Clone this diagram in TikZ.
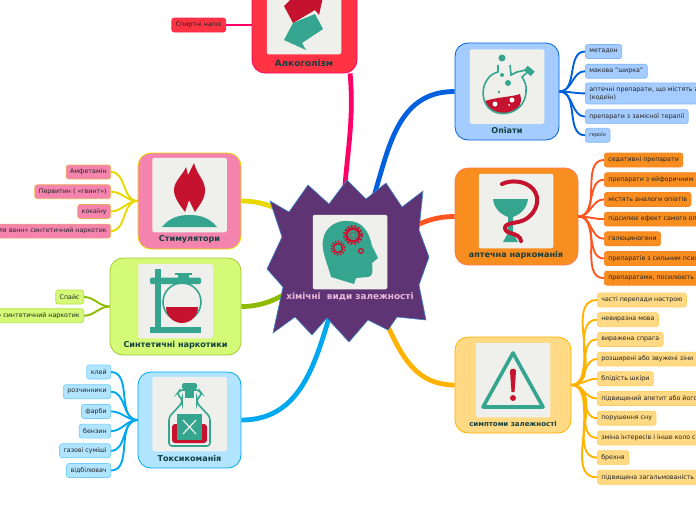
\documentclass[tikz,border=0pt]{standalone}
\usepackage{fontspec}
\setmainfont{DejaVu Sans}
\usetikzlibrary{positioning, calc}
\definecolor{icongreen}{HTML}{35A58F}
\definecolor{iconred}{HTML}{C4122F}
\definecolor{iconbg}{HTML}{EFF0EC}
\definecolor{titledark}{HTML}{123F3F}
\definecolor{leaftext}{HTML}{222222}
\definecolor{starfill}{HTML}{5E3474}
\definecolor{starline}{HTML}{3A86C8}
\definecolor{starlabel}{HTML}{EBB9DC}
\definecolor{alcfill}{HTML}{FF3344}
\definecolor{alcline}{HTML}{FF0066}
\definecolor{stimfill}{HTML}{F484AE}
\definecolor{stimline}{HTML}{E8D800}
\definecolor{synfill}{HTML}{D4FA78}
\definecolor{synline}{HTML}{8DBB00}
\definecolor{toxfill}{HTML}{B0E4FF}
\definecolor{toxline}{HTML}{00A8F0}
\definecolor{opifill}{HTML}{A4CCFF}
\definecolor{opiline}{HTML}{0060DD}
\definecolor{phafill}{HTML}{F98E20}
\definecolor{phaline}{HTML}{FF5520}
\definecolor{symfill}{HTML}{FFD984}
\definecolor{symline}{HTML}{FFB300}

\begin{document}
\begin{tikzpicture}[
  x=1pt, y=-1pt,
  every node/.style={font=\fontsize{6.3}{7.6}\selectfont, text=leaftext},
  topicbox/.style={
    line width=0.8pt, rounded corners=13pt, inner sep=0pt
  },
  iconbox/.style={
    fill=iconbg, rounded corners=2pt, inner sep=0pt,
    minimum width=74.5pt, minimum height=74.5pt
  },
  toplabel/.style={font=\fontsize{8.1}{9}\selectfont\bfseries, text=titledark, inner sep=0pt},
  leaf/.style={
    rounded corners=2.5pt, line width=0.7pt, inner xsep=4pt, inner ysep=0pt,
    minimum height=14pt, align=left
  },
  mainlink/.style={line width=4.8pt},
  leaflink/.style={line width=1.9pt},
  redfill/.style={fill=iconred},
  greenfill/.style={fill=icongreen},
  greenline/.style={draw=icongreen, line width=1.6pt}
]
\useasboundingbox (0,0) rectangle (696,520);
\clip (0,0) rectangle (696,520);

\coordinate (root) at (348,260);

% topics
\node[topicbox, draw=alcline, fill=alcfill, minimum width=105pt, minimum height=97pt] (alcohol) at (304.5,24.5) {};
\node[topicbox, draw=stimline, fill=stimfill, minimum width=103pt, minimum height=96pt] (stimul) at (189.5,201) {};
\node[topicbox, draw=synline!80, fill=synfill, minimum width=131pt, minimum height=97pt] (synth) at (175.5,306.5) {};
\node[topicbox, draw=toxline, fill=toxfill, minimum width=103pt, minimum height=96pt] (toxic) at (189.5,420) {};
\node[topicbox, draw=opiline, fill=opifill, minimum width=104pt, minimum height=97pt] (opiate) at (507,91.5) {};
\node[topicbox, draw=phaline!80, fill=phafill, minimum width=123pt, minimum height=97pt] (pharma) at (516.5,216.5) {};
\node[topicbox, draw=symline, fill=symfill, minimum width=116pt, minimum height=96pt] (sympt) at (513,385) {};

\node[iconbox] (alcoholicon) at (304,17) {};
\node[iconbox] (stimulicon) at (189.5,195) {};
\node[iconbox] (synthicon) at (175.5,301) {};
\node[iconbox] (toxicicon) at (189.5,414) {};
\node[iconbox] (opiateicon) at (507,86.5) {};
\node[iconbox] (pharmaicon) at (516,211) {};
\node[iconbox] (symptomicon) at (513,380) {};

\node[toplabel, font=\fontsize{8.9}{10}\selectfont\bfseries] (alcohollabel) at (304,63) {Алкоголізм};
\node[toplabel] (stimullabel) at (189.5,239) {Стимулятори};
\node[toplabel] (synthlabel) at (175.5,345) {Синтетичні наркотики};
\node[toplabel] (toxiclabel) at (189.5,458) {Токсикоманія};
\node[toplabel] (opiatelabel) at (507,130) {Опіати};
\node[toplabel] (pharmalabel) at (516,255) {аптечна наркоманія};
\node[toplabel, font=\fontsize{7}{8}\selectfont\bfseries] (symptomlabel) at (513,423.5) {симптоми залежності};

% leaves, left side
\node[leaf, fill=alcfill, draw=alcline!30!alcfill, anchor=east] (spirit) at (226,25) {Спиртні напої};

\node[leaf, fill=stimfill, draw=stimline!50!stimfill, anchor=east] (amphet) at (111,172) {Амфетамін};
\node[leaf, fill=stimfill, draw=stimline!50!stimfill, below=5pt of amphet.south east, anchor=north east] (pervit) {Первитин ( «гвинт»)};
\node[leaf, fill=stimfill, draw=stimline!50!stimfill, below=5pt of pervit.south east, anchor=north east] (cocain) {кокаїну};
\node[leaf, fill=stimfill, draw=stimline!50!stimfill, below=5pt of cocain.south east, anchor=north east] (bathsalt) {ля ванн» синтетичний наркотик};

\node[leaf, fill=synfill, draw=synline!40!synfill, anchor=east] (spice) at (84,297) {Спайс};
\node[leaf, fill=synfill, draw=synline!40!synfill, below=4pt of spice.south east, anchor=north east] (spicedrug) {» синтетичний наркотик};

\node[leaf, fill=toxfill, draw=toxline!35!toxfill, anchor=east] (glue) at (111,372) {клей};
\node[leaf, fill=toxfill, draw=toxline!35!toxfill, below=5pt of glue.south east, anchor=north east] (solvent) {розчинники};
\node[leaf, fill=toxfill, draw=toxline!35!toxfill, below=5pt of solvent.south east, anchor=north east] (paint) {фарби};
\node[leaf, fill=toxfill, draw=toxline!35!toxfill, below=5pt of paint.south east, anchor=north east] (petrol) {бензин};
\node[leaf, fill=toxfill, draw=toxline!35!toxfill, below=5pt of petrol.south east, anchor=north east] (gasmix) {газові суміші};
\node[leaf, fill=toxfill, draw=toxline!35!toxfill, below=5pt of gasmix.south east, anchor=north east] (bleach) {відбілювач};

% leaves, right side
\node[leaf, fill=opifill, draw=opiline!20!opifill, anchor=west] (methad) at (585,51.5) {метадон};
\node[leaf, fill=opifill, draw=opiline!20!opifill, below=5pt of methad.south west, anchor=north west] (poppy) {макова "ширка"};
\node[leaf, fill=opifill, draw=opiline!20!opifill, below=4pt of poppy.south west, anchor=north west, minimum height=21pt] (codeine) {аптечні препарати, що містять а\\(кодеїн)};
\node[leaf, fill=opifill, draw=opiline!20!opifill, below=5pt of codeine.south west, anchor=north west] (substit) {препарати з замісної терапії};
\node[leaf, fill=opifill, draw=opiline!20!opifill, below=4pt of substit.south west, anchor=north west, font=\fontsize{5}{6}\selectfont] (heroin) {героїн};

\node[leaf, fill=phafill, draw=phaline!20!phafill, anchor=west] (sedat) at (604,160) {седативні препарати};
\node[leaf, fill=phafill, draw=phaline!20!phafill, below=5pt of sedat.south west, anchor=north west] (euphor) {препарати з ейфоричним};
\node[leaf, fill=phafill, draw=phaline!20!phafill, below=5pt of euphor.south west, anchor=north west] (analog) {містять аналоги опіатів};
\node[leaf, fill=phafill, draw=phaline!20!phafill, below=5pt of analog.south west, anchor=north west] (enhance) {підсилює ефект самого оп};
\node[leaf, fill=phafill, draw=phaline!20!phafill, below=5pt of enhance.south west, anchor=north west] (halluc) {галюциногени};
\node[leaf, fill=phafill, draw=phaline!20!phafill, below=5pt of halluc.south west, anchor=north west] (strong) {препаратів з сильним псих};
\node[leaf, fill=phafill, draw=phaline!20!phafill, below=5pt of strong.south west, anchor=north west] (amplify) {препаратами, посилюють};

\node[leaf, fill=symfill, draw=symline!25!symfill, anchor=west] (moods) at (597,300) {часті перепади настрою};
\node[leaf, fill=symfill, draw=symline!25!symfill, below=5pt of moods.south west, anchor=north west] (speech) {невиразна мова};
\node[leaf, fill=symfill, draw=symline!25!symfill, below=5pt of speech.south west, anchor=north west] (thirst) {виражена спрага};
\node[leaf, fill=symfill, draw=symline!25!symfill, below=5pt of thirst.south west, anchor=north west] (pupils) {розширені або звужені зіни};
\node[leaf, fill=symfill, draw=symline!25!symfill, below=5pt of pupils.south west, anchor=north west] (pale) {блідість шкіри};
\node[leaf, fill=symfill, draw=symline!25!symfill, below=5pt of pale.south west, anchor=north west] (appetite) {підвищений апетит або його};
\node[leaf, fill=symfill, draw=symline!25!symfill, below=5pt of appetite.south west, anchor=north west] (sleep) {порушення сну};
\node[leaf, fill=symfill, draw=symline!25!symfill, below=5pt of sleep.south west, anchor=north west] (interest) {зміна інтересів і інше коло с};
\node[leaf, fill=symfill, draw=symline!25!symfill, below=5pt of interest.south west, anchor=north west] (lies) {брехня};
\node[leaf, fill=symfill, draw=symline!25!symfill, below=5pt of lies.south west, anchor=north west] (inhibit) {підвищена загальмованість};

% connectors
\draw[mainlink, alcline] (root) to[out=100, in=-85] (alcohol.-47);
\draw[mainlink, stimline] (root) to[out=150, in=0] (stimul.east);
\draw[mainlink, synline] (root) to[out=195, in=0] (synth.east);
\draw[mainlink, toxline] (root) to[out=-112, in=0] (toxic.east);
\draw[mainlink, opiline] (root) to[out=58, in=180] (opiate.west);
\draw[mainlink, phaline] (root) to[out=15, in=180] (pharma.west);
\draw[mainlink, symline] (root) to[out=-45, in=180] (sympt.west);

\draw[leaflink, alcline] (alcohol.west |- spirit) -- (spirit);
\foreach \leafname in {amphet, pervit, cocain, bathsalt}
  \draw[leaflink, stimline] (stimul.west) to[out=180, in=0] (\leafname.east);
\foreach \leafname in {spice, spicedrug}
  \draw[leaflink, synline] (synth.west) to[out=180, in=0] (\leafname.east);
\foreach \leafname in {glue, solvent, paint, petrol, gasmix, bleach}
  \draw[leaflink, toxline] (toxic.west) to[out=180, in=0] (\leafname.east);
\foreach \leafname in {methad, poppy, codeine, substit, heroin}
  \draw[leaflink, opiline] (opiate.east) to[out=0, in=180] (\leafname.west);
\foreach \leafname in {sedat, euphor, analog, enhance, halluc, strong, amplify}
  \draw[leaflink, phaline] (pharma.east) to[out=0, in=180] (\leafname.west);
\foreach \leafname in {moods, speech, thirst, pupils, pale, appetite, sleep, interest, lies, inhibit}
  \draw[leaflink, symline] (sympt.east) to[out=0, in=180] (\leafname.west);

% central star
\draw[fill=starfill, draw=starline, line width=0.6pt] (270,201) -- (289,212) -- (308,185) -- (329,204) -- (347,180) -- (366,199)
  -- (386,183) -- (402,207) -- (423,191) -- (419,230) -- (429,257) -- (419,285) -- (426,320) -- (397,317)
  -- (388,330) -- (368,320) -- (349,342) -- (327,318) -- (312,335) -- (295,317) -- (273,333) -- (283,287)
  -- (267,269) -- (282,237) -- cycle;
\node[iconbox] (rooticon) at (350,252) {};
\node[toplabel, text=starlabel, font=\fontsize{8.9}{10}\selectfont\bfseries] (rootlabel) at (350,296.5) {хімічні\ \ види залежності};

% head
\fill[greenfill] (331,277) .. controls (327,262) and (321,250) .. (323,240) .. controls (325,226) and (338,220) .. (348,221)
  .. controls (362,221) and (369,231) .. (372,246) -- (378,258) -- (372,263) .. controls (373,270) and (373,277) .. (368,277)
  -- (356,278) -- (354,284) -- cycle;
\draw[iconred, line width=2pt, dash pattern=on 2pt off 1.6pt] (353,235) circle (9pt);
\draw[iconred, line width=2.6pt] (353,235) circle (6.4pt);
\draw[iconred!50!icongreen, line width=0.8pt] (353,235) circle (3pt);
\draw[iconred, line width=1.6pt, dash pattern=on 1.6pt off 1.4pt] (338,248) circle (6.7pt);
\draw[iconred, line width=1.7pt] (338,248) circle (4.6pt);
\draw[iconred, line width=1.3pt] (361,251) circle (2.4pt);

% two arrows
\fill[redfill] (284,6) -- (293,-3) -- (323,-3) -- (319,15) -- (315,10) -- (293,23) -- cycle;
\fill[greenfill] (293,23) -- (315,14) -- (323,29) -- (302,43) -- (306,50) -- (284,40) -- cycle;

% flame
\fill[redfill] (185,212) .. controls (180,205) and (174,198) .. (174,190) .. controls (174,181) and (183,175) .. (186,167) -- (188,175)
  -- (194,163) .. controls (197,175) and (205,180) .. (205,190) .. controls (205,200) and (199,205) .. (195,212)
  -- (189,200) -- cycle;
\fill[greenfill] (162,227) .. controls (170,217) and (180,215) .. (189,215) .. controls (199,215) and (209,217) .. (217,227) -- cycle;

% flask on a stand
\fill[greenfill] (155,269) rectangle (161,328);
\fill[greenfill] (150,327) rectangle (201,333);
\fill[greenfill, rounded corners=1.5pt] (150,277.5) rectangle (201,284);
\fill[greenfill] (175,273) rectangle (192,275);
\fill[greenfill] (178,275) rectangle (189,278);
\draw[greenline] (182,302) circle (19pt);
\fill[redfill] (166,307) arc[start angle=180, end angle=360, radius=16pt] -- cycle;

% poison bottle
\draw[greenline, rounded corners=3pt] (180,390) -- (199,390) -- (202,394) -- (197,399) -- (197,403) -- (210,417) -- (210,446) -- (169,446) -- (169,417) -- (182,403) -- (182,399) -- (177,394) -- cycle;
\fill[redfill, rounded corners=3pt] (172,424) rectangle (207,443);
\fill[greenfill, rounded corners=1.5pt] (182,383) rectangle (197,389);
\fill[greenfill] (185,388) rectangle (194,398);
\fill[greenfill] (177,414) rectangle (202,440);
\draw[iconbg, line width=1.2pt] (183,420) -- (196,434) (196,420) -- (183,434);

% round flask
\fill[redfill] (485,101) .. controls (497,97) and (512,97) .. (520,94) .. controls (524,106) and (515,113) .. (504,113) .. controls (494,113) and (487,108) .. (485,101) -- cycle;
\draw[greenline] (498,65) -- (498,72) .. controls (482,76) and (478,99) .. (490,109) .. controls (502,119) and (525,112) .. (526,92) .. controls (527,85) and (524,80) .. (522,77) -- (531,69);
\draw[greenline] (510,65) -- (511,75) -- (517,72) -- (526,70);
\fill[greenfill] (502,58) circle (3.5pt) (502,75) circle (2pt) (508,83) circle (3pt) (499,92) circle (1.3pt);
\fill[greenfill, rotate around={-40:(529,72)}] (524,68) rectangle (533,74);
\fill[white] (495,104) circle (2.5pt) (512,100) circle (2.5pt) (509,105) circle (1pt);

% bowl and snake
\fill[greenfill] (493,199) -- (528,199) .. controls (527,208) and (521,214) .. (513,217) -- (513,233) -- (518,242) -- (503,242) -- (508,233) -- (508,217) .. controls (500,214) and (494,208) .. (493,199) -- cycle;
\draw[iconred, line width=4pt, line cap=round] (502,184) .. controls (510,180) and (525,180) .. (533,189) .. controls (541,198) and (537,212) .. (526,219)
  .. controls (518,224) and (505,222) .. (505,228) .. controls (505,235) and (520,232) .. (521,241);

% warning sign
\draw[draw=icongreen, line width=3.6pt, line join=round] (513,353) -- (543,407) -- (483,407) -- cycle;
\fill[redfill] (510,371) .. controls (510,368) and (516,368) .. (516,371) -- (514.5,392) -- (511.5,392) -- cycle;
\fill[redfill] (513,398) circle (3pt);
\end{tikzpicture}
\end{document}
